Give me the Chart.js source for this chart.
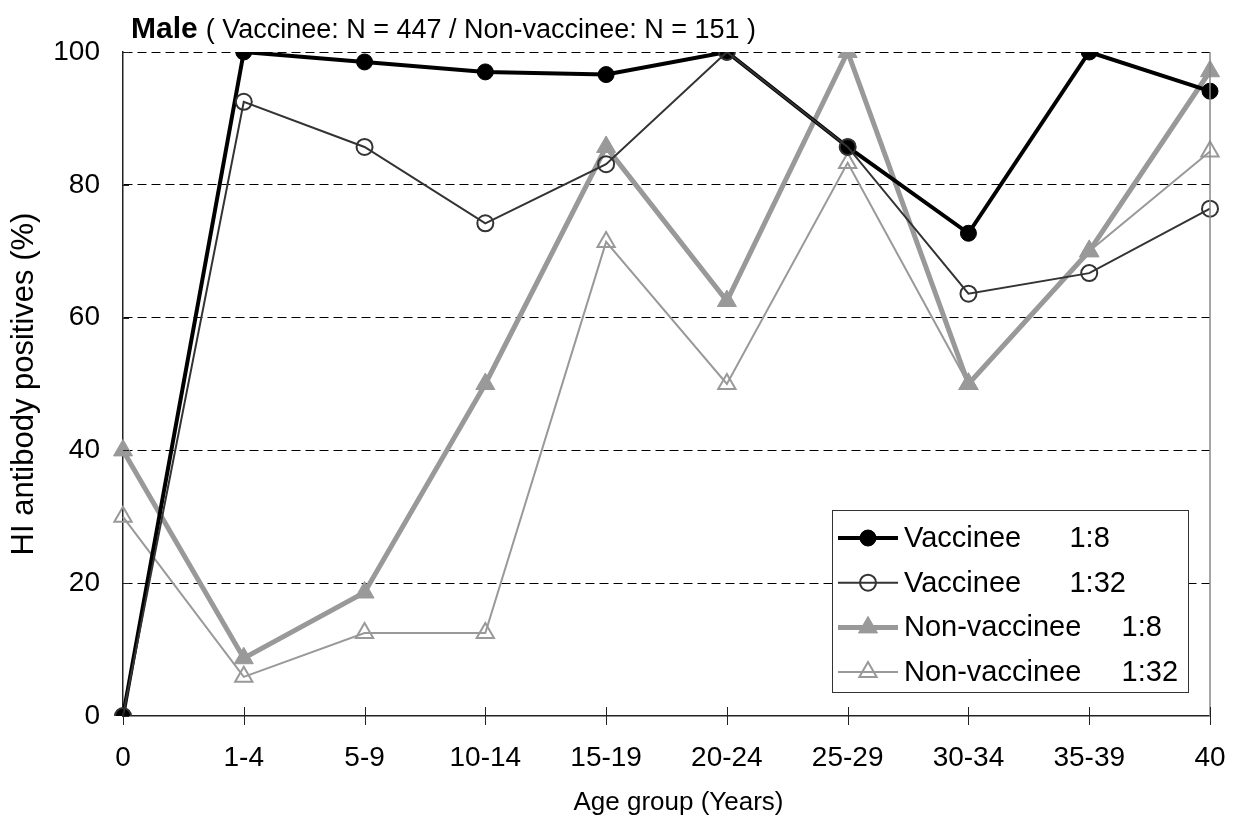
<!DOCTYPE html>
<html>
<head>
<meta charset="utf-8">
<script src="https://cdn.jsdelivr.net/npm/chart.js@4/dist/chart.umd.min.js"></script>
<style>
  html, body { margin: 0; padding: 0; background: #fff; }
  #wrap { width: 1252px; height: 823px; }
</style>
</head>
<body>
<div id="wrap"><canvas id="chart" width="1252" height="823"></canvas></div>
<script>
// age groups on the x axis
const ageGroups = ['0', '1-4', '5-9', '10-14', '15-19', '20-24', '25-29', '30-34', '35-39', '40'];

// % HI antibody positives
const vaccinee8 = [0, 100, 98.5, 97.0, 96.6, 100, 85.7, 72.7, 100, 94.1];
const vaccinee32 = [0, 92.5, 85.7, 74.2, 83.1, 100, 85.7, 63.6, 66.7, 76.4];
const nonVaccinee8 = [40, 8.7, 18.6, 50, 85.7, 62.5, 100, 50, 70, 97.1];
const nonVaccinee32 = [30, 5.9, 12.5, 12.5, 71.4, 50, 83.3, 50, 70, 85.0];

const legendLabels = ['Vaccinee      1:8', 'Vaccinee      1:32', 'Non-vaccinee     1:8', 'Non-vaccinee     1:32'];
const yTicks = [0, 20, 40, 60, 80, 100];

const FONT = "'Liberation Sans', Arial, sans-serif";

// title, x title, tick marks, right frame and the boxed legend
const decorations = {
    id: 'decorations',
    afterDraw(chart) {
        const ctx = chart.ctx;
        const area = chart.chartArea;
        const xScale = chart.scales.x;
        const yScale = chart.scales.y;

        ctx.save();

        // right frame line
        ctx.strokeStyle = '#888';
        ctx.lineWidth = 1.5;
        ctx.beginPath();
        ctx.moveTo(area.right, area.top);
        ctx.lineTo(area.right, area.bottom);
        ctx.stroke();

        // x tick marks crossing the axis
        ctx.strokeStyle = '#222';
        ctx.lineWidth = 1;
        xScale.ticks.forEach(function(t, i) {
            const px = Math.round(xScale.getPixelForTick(i)) + 0.5;
            ctx.beginPath();
            ctx.moveTo(px, area.bottom - 9);
            ctx.lineTo(px, area.bottom + 9);
            ctx.stroke();
        });

        // short inward y ticks
        yTicks.forEach(function(v) {
            const py = Math.round(yScale.getPixelForValue(v)) + 0.5;
            ctx.beginPath();
            ctx.moveTo(area.left, py);
            ctx.lineTo(area.left + 6, py);
            ctx.stroke();
        });

        // chart title
        ctx.fillStyle = '#000';
        ctx.textBaseline = 'alphabetic';
        ctx.textAlign = 'left';
        ctx.font = 'bold 30px ' + FONT;
        ctx.fillText('Male', 131, 38);
        const w = ctx.measureText('Male').width;
        ctx.font = '27px ' + FONT;
        ctx.fillText('( Vaccinee: N = 447 / Non-vaccinee: N = 151 )', 131 + w + 8, 38);

        // x axis title
        ctx.textAlign = 'center';
        ctx.textBaseline = 'middle';
        ctx.font = '26px ' + FONT;
        ctx.fillText('Age group (Years)', (area.left + area.right) / 2 + 12, 803);

        // legend box
        const boxL = area.left + 709, boxT = area.top + 458;
        const boxR = area.right - 22, boxB = area.bottom - 24;
        ctx.fillStyle = '#fff';
        ctx.fillRect(boxL, boxT, boxR - boxL, boxB - boxT);
        ctx.strokeStyle = '#333';
        ctx.lineWidth = 1;
        ctx.strokeRect(boxL + 0.5, boxT + 0.5, boxR - boxL, boxB - boxT);

        ctx.textAlign = 'left';
        chart.data.datasets.forEach(function(ds, i) {
            const cy = boxT + 28 + i * 44.7;
            ctx.strokeStyle = ds.borderColor;
            ctx.lineWidth = ds.borderWidth;
            ctx.beginPath();
            ctx.moveTo(boxL + 6, cy);
            ctx.lineTo(boxL + 66, cy);
            ctx.stroke();

            ctx.fillStyle = ds.pointBackgroundColor;
            ctx.strokeStyle = ds.borderColor;
            ctx.lineWidth = ds.pointBorderWidth;
            Chart.helpers.drawPoint(ctx, {
                pointStyle: ds.pointStyle,
                radius: ds.pointRadius,
                borderWidth: ds.pointBorderWidth,
                rotation: 0
            }, boxL + 36, cy);

            ctx.fillStyle = '#000';
            ctx.font = '29px ' + FONT;
            ctx.textBaseline = 'middle';
            ctx.fillText(legendLabels[i], boxL + 72, cy + 1);
        });

        ctx.restore();
    }
};

const ctx = document.getElementById('chart').getContext('2d');
new Chart(ctx, {
    type: 'line',
    data: {
        labels: ageGroups,
        datasets: [
            {
                label: legendLabels[0],
                data: vaccinee8,
                borderColor: '#000',
                backgroundColor: '#000',
                pointBackgroundColor: '#000',
                borderWidth: 4,
                pointStyle: 'circle',
                pointRadius: 8,
                pointBorderWidth: 1,
                order: 2
            },
            {
                label: legendLabels[1],
                data: vaccinee32,
                borderColor: '#333',
                backgroundColor: 'rgba(0,0,0,0)',
                pointBackgroundColor: 'rgba(0,0,0,0)',
                borderWidth: 2,
                pointStyle: 'circle',
                pointRadius: 8,
                pointBorderWidth: 2,
                order: 1
            },
            {
                label: legendLabels[2],
                data: nonVaccinee8,
                borderColor: '#999',
                backgroundColor: '#999',
                pointBackgroundColor: '#999',
                borderWidth: 5,
                pointStyle: 'triangle',
                pointRadius: 11,
                pointBorderWidth: 1,
                order: 4
            },
            {
                label: legendLabels[3],
                data: nonVaccinee32,
                borderColor: '#999',
                backgroundColor: 'rgba(0,0,0,0)',
                pointBackgroundColor: 'rgba(0,0,0,0)',
                borderWidth: 2,
                pointStyle: 'triangle',
                pointRadius: 10,
                pointBorderWidth: 2,
                order: 3
            }
        ]
    },
    options: {
        responsive: false,
        animation: false,
        events: [],
        layout: { padding: { top: 52, right: 42, left: 0, bottom: 0 } },
        elements: { line: { tension: 0 } },
        plugins: {
            legend: { display: false },
            tooltip: { enabled: false }
        },
        scales: {
            x: {
                type: 'category',
                offset: false,
                grid: { display: false, drawTicks: false },
                border: { display: true, color: '#222', width: 1.5 },
                ticks: {
                    color: '#000',
                    font: { family: FONT, size: 28 },
                    padding: 25,
                    maxRotation: 0,
                    autoSkip: false
                },
                afterFit: function(scale) { scale.height = 107; }
            },
            y: {
                min: 0,
                max: 100,
                grid: {
                    drawTicks: false,
                    lineWidth: 1,
                    color: function(c) { return c.tick && c.tick.value === 0 ? 'rgba(0,0,0,0)' : '#000'; }
                },
                border: { display: true, color: '#222', width: 1.5, dash: [9, 5] },
                ticks: {
                    stepSize: 20,
                    color: '#000',
                    font: { family: FONT, size: 28 },
                    padding: 23
                },
                title: {
                    display: true,
                    text: 'HI antibody positives (%)',
                    color: '#000',
                    font: { family: FONT, size: 31 },
                    padding: { top: 6, bottom: 0 }
                },
                afterFit: function(scale) { scale.width = 123; }
            }
        }
    },
    plugins: [decorations]
});
</script>
</body>
</html>
